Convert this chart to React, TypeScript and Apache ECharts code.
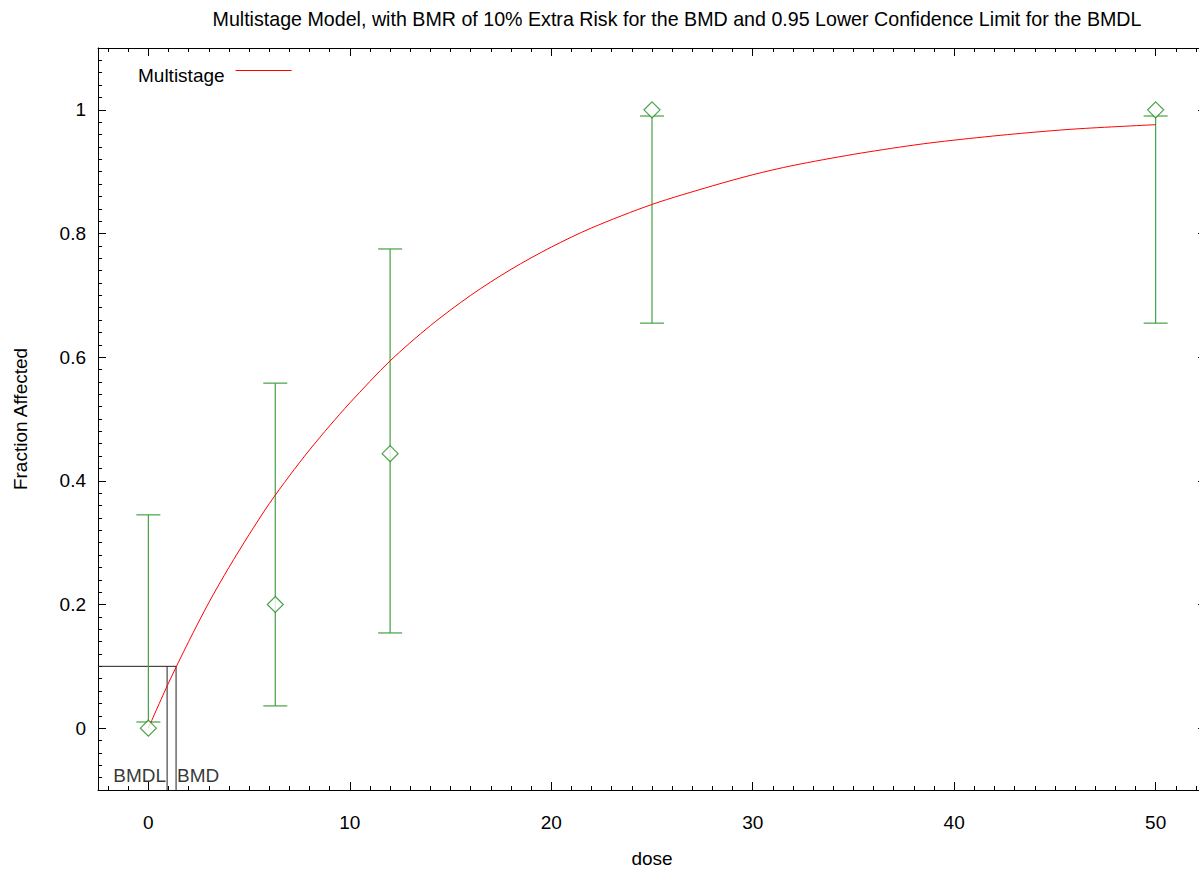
import React, { useEffect, useRef } from "react";
import * as echarts from "echarts";

const TITLE =
  "Multistage Model, with BMR of 10% Extra Risk for the BMD and 0.95 Lower Confidence Limit for the BMDL";
const X_NAME = "dose";
const Y_NAME = "Fraction Affected";
const LEGEND_NAME = "Multistage";

// observed data
const doses = [0, 6.3, 12, 25, 50];
const observed = [0, 0.2, 0.444, 1, 1];
const ciLower = [0.01, 0.036, 0.154, 0.655, 0.655];
const ciUpper = [0.345, 0.558, 0.775, 0.99, 0.99];

// fitted curve
const curveDose = [0, 1, 2, 3, 4, 5, 6, 7, 8, 9, 10, 12, 14, 16, 18, 20, 22, 25, 28, 30, 32, 35, 38, 40, 43, 46, 50];
const curveResp = [
  0, 0.073, 0.14, 0.203, 0.26, 0.313, 0.363, 0.408, 0.45, 0.489, 0.526, 0.594, 0.651, 0.7, 0.742, 0.778,
  0.809, 0.847, 0.877, 0.895, 0.91, 0.928, 0.943, 0.951, 0.961, 0.969, 0.976,
];

const BMR = 0.1;
const BMD = 1.375;
const BMDL = 0.93;
const BMD_LABEL_Y = -0.076;

const X_MIN = -2.5;
const X_MAX = 52.5;
const Y_MIN = -0.1;
const Y_MAX = 1.1;

const xMajorTicks = [0, 10, 20, 30, 40, 50];
const yMajorTicks = [0, 0.2, 0.4, 0.6, 0.8, 1];

// minor ticks every 1 dose unit and every 0.02 in fraction
const xMinorTicks: number[] = [];
for (let i = -2; i <= 52; i++) if (i % 10 !== 0) xMinorTicks.push(i);
const yMinorTicks: number[] = [];
for (let i = -4; i <= 54; i++) if (i % 10 !== 0) yMinorTicks.push(i / 50);

const FONT = "'Liberation Sans', Arial, Helvetica, sans-serif";
const AXIS_COLOR = "#000";
const GREEN = "#1e8c1e";
const ERR_GREEN = "#45a045";
const RED = "#ff0000";

export default function App() {
  const ref = useRef<HTMLDivElement>(null);

  useEffect(() => {
    if (!ref.current) return;
    const chart = echarts.init(ref.current, undefined, { renderer: "svg" });

    const gridRect = { left: 98, top: 48, width: 1108, height: 742 };

    const majorX = (position: string, showLabel: boolean) => ({
      type: "value",
      gridIndex: 0,
      position,
      min: X_MIN,
      max: X_MAX,
      name: showLabel ? X_NAME : "",
      nameLocation: "middle",
      nameGap: 59,
      nameTextStyle: { fontSize: 19, color: "#000", fontFamily: FONT },
      axisLine: { show: true, onZero: false, lineStyle: { color: AXIS_COLOR, width: 1 } },
      axisTick: {
        show: true,
        inside: true,
        length: 8,
        customValues: xMajorTicks,
        lineStyle: { color: AXIS_COLOR, width: 1 },
      },
      axisLabel: {
        show: showLabel,
        customValues: xMajorTicks,
        margin: 23,
        fontSize: 19,
        color: "#000",
        fontFamily: FONT,
      },
      splitLine: { show: false },
    });
    const minorX = (position: string) => ({
      type: "value",
      gridIndex: 1,
      position,
      min: X_MIN,
      max: X_MAX,
      axisLine: { show: false, onZero: false },
      axisTick: {
        show: true,
        inside: true,
        length: 4,
        customValues: xMinorTicks,
        lineStyle: { color: AXIS_COLOR, width: 1 },
      },
      axisLabel: { show: false },
      splitLine: { show: false },
    });
    const majorY = (position: string, showLabel: boolean) => ({
      type: "value",
      gridIndex: 0,
      position,
      min: Y_MIN,
      max: Y_MAX,
      name: showLabel ? Y_NAME : "",
      nameLocation: "middle",
      nameGap: 68,
      nameTextStyle: { fontSize: 19, color: "#000", fontFamily: FONT },
      axisLine: { show: true, onZero: false, lineStyle: { color: AXIS_COLOR, width: 1 } },
      axisTick: {
        show: true,
        inside: true,
        length: 8,
        customValues: yMajorTicks,
        lineStyle: { color: AXIS_COLOR, width: 1 },
      },
      axisLabel: {
        show: showLabel,
        customValues: yMajorTicks,
        margin: 12,
        fontSize: 19,
        color: "#000",
        fontFamily: FONT,
      },
      splitLine: { show: false },
    });
    const minorY = (position: string) => ({
      type: "value",
      gridIndex: 1,
      position,
      min: Y_MIN,
      max: Y_MAX,
      axisLine: { show: false, onZero: false },
      axisTick: {
        show: true,
        inside: true,
        length: 4,
        customValues: yMinorTicks,
        lineStyle: { color: AXIS_COLOR, width: 1 },
      },
      axisLabel: { show: false },
      splitLine: { show: false },
    });

    const option: any = {
      animation: false,
      backgroundColor: "#fff",
      textStyle: { fontFamily: FONT },
      title: {
        text: TITLE,
        left: 672,
        top: 4,
        textAlign: "center",
        textStyle: { fontSize: 19.65, fontWeight: "normal", color: "#000", fontFamily: FONT },
      },
      legend: {
        data: [LEGEND_NAME],
        left: 138,
        top: 66,
        padding: 0,
        align: "right",
        icon: "rect",
        itemWidth: 56,
        itemHeight: 1,
        selectedMode: false,
        itemStyle: { color: RED, borderWidth: 0 },
        formatter: "{a|{name}}",
        textStyle: {
          fontSize: 19,
          color: "#000",
          fontFamily: FONT,
          rich: { a: { fontSize: 19, color: "#000", fontFamily: FONT, padding: [10, 6, 0, 0] } },
        },
      },
      grid: [
        { ...gridRect, containLabel: false, outerBoundsMode: "none" },
        { ...gridRect, containLabel: false, outerBoundsMode: "none" },
      ],
      xAxis: [majorX("bottom", true), majorX("top", false), minorX("bottom"), minorX("top")],
      yAxis: [majorY("left", true), majorY("right", false), minorY("left"), minorY("right")],
      series: [
        {
          name: "BMD lines",
          type: "line",
          data: [
            [X_MIN, BMR],
            [BMD, BMR],
            [BMD, Y_MIN],
          ],
          symbol: "none",
          lineStyle: { color: "#222", width: 1 },
          z: 1,
          silent: true,
        },
        {
          name: "BMDL line",
          type: "line",
          data: [
            [BMDL, BMR],
            [BMDL, Y_MIN],
          ],
          symbol: "none",
          lineStyle: { color: "#222", width: 1 },
          z: 1,
          silent: true,
        },
        {
          name: "BMD labels",
          type: "scatter",
          symbolSize: 0,
          silent: true,
          data: [
            {
              value: [BMDL, BMD_LABEL_Y],
              label: { show: true, position: "left", distance: 1, formatter: "BMDL" },
            },
            {
              value: [BMD, BMD_LABEL_Y],
              label: { show: true, position: "right", distance: 1, formatter: "BMD" },
            },
          ],
          label: { fontSize: 19, color: "#000", fontFamily: FONT },
          z: 1,
        },
        {
          name: "CI",
          type: "custom",
          z: 2,
          silent: true,
          encode: { x: 0, y: [1, 2] },
          data: doses.map((d, i) => [d, ciLower[i], ciUpper[i]]),
          renderItem: (_params: any, api: any) => {
            const x = api.value(0);
            const pLo = api.coord([x, api.value(1)]);
            const pHi = api.coord([x, api.value(2)]);
            const half = 12;
            const style = { stroke: ERR_GREEN, lineWidth: 1.2 };
            return {
              type: "group",
              children: [
                { type: "line", shape: { x1: pLo[0], y1: pLo[1], x2: pHi[0], y2: pHi[1] }, style },
                { type: "line", shape: { x1: pLo[0] - half, y1: pLo[1], x2: pLo[0] + half, y2: pLo[1] }, style },
                { type: "line", shape: { x1: pHi[0] - half, y1: pHi[1], x2: pHi[0] + half, y2: pHi[1] }, style },
              ],
            };
          },
        },
        {
          name: LEGEND_NAME,
          type: "line",
          z: 3,
          data: curveDose.map((d, i) => [d, curveResp[i]]),
          smooth: 0.3,
          symbol: "none",
          color: RED,
          itemStyle: { color: RED },
          lineStyle: { color: RED, width: 1 },
        },
        {
          name: "Observed",
          type: "scatter",
          z: 4,
          data: doses.map((d, i) => [d, observed[i]]),
          symbol: "diamond",
          symbolSize: 16,
          itemStyle: { color: "#fff", borderColor: GREEN, borderWidth: 1.2 },
        },
      ],
    };

    chart.setOption(option);
    return () => chart.dispose();
  }, []);

  return (
    <div
      style={{
        position: "fixed",
        left: 0,
        top: 0,
        width: 1199,
        height: 870,
        overflow: "hidden",
        background: "#fff",
      }}
    >
      <div ref={ref} style={{ width: 1260, height: 870 }} />
    </div>
  );
}
